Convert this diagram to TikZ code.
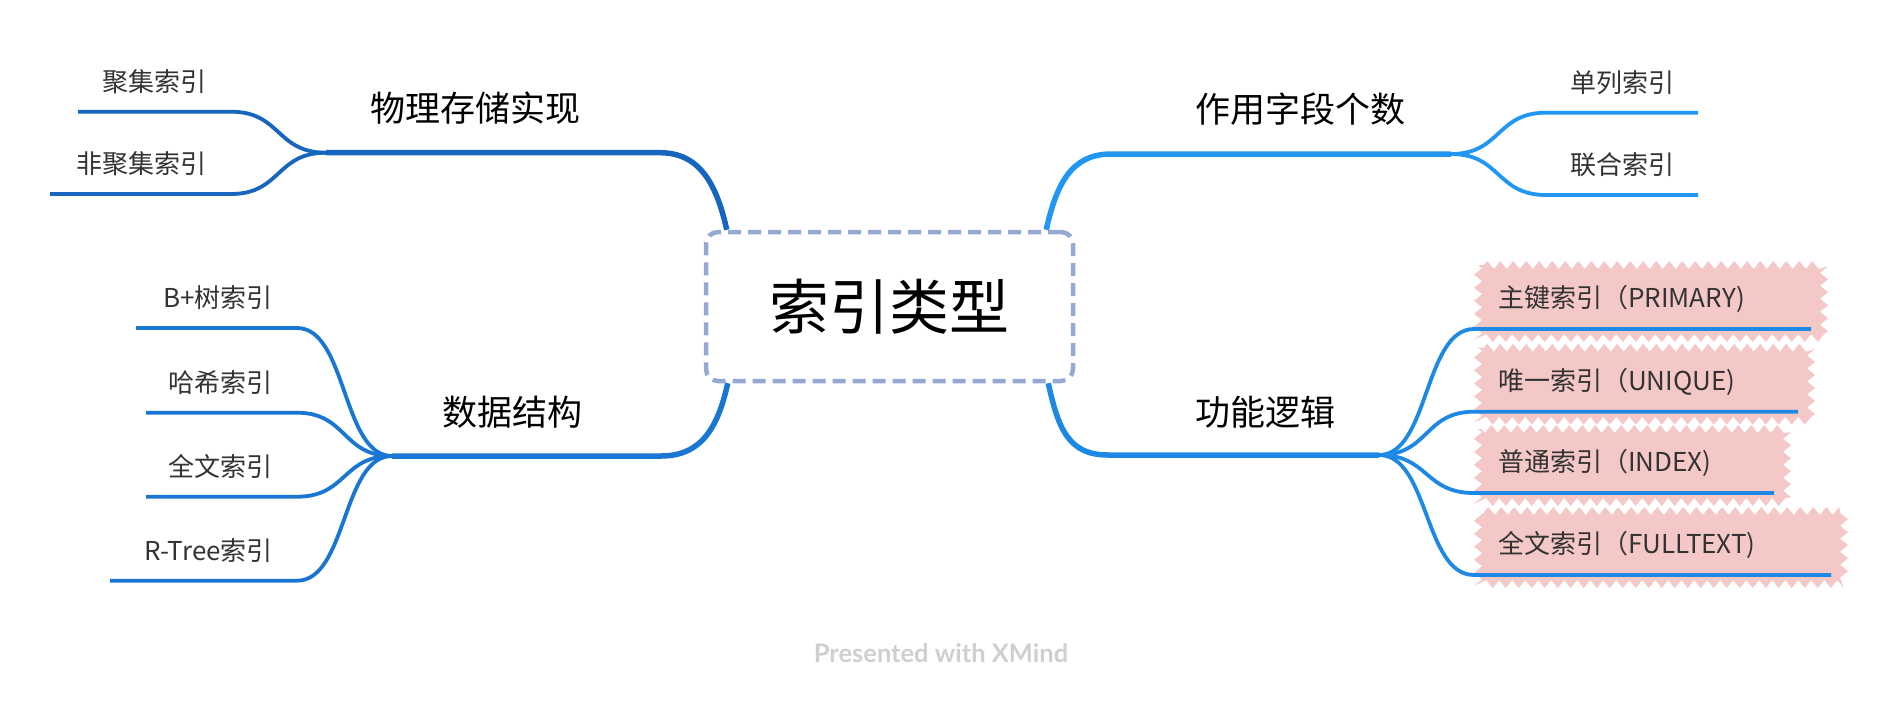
\documentclass[tikz,border=0pt]{standalone}
\usepackage{fontspec}
\setmainfont{Noto Sans CJK SC}
\newfontfamily\xmindfont{Lato}
\usetikzlibrary{calc,decorations.pathmorphing,positioning}
\usepackage{xcolor}
\definecolor{rootdash}{HTML}{95A9D3}
\definecolor{storeblue}{HTML}{1665BE}
\definecolor{fieldblue}{HTML}{2196F3}
\definecolor{structblue}{HTML}{1976D2}
\definecolor{logicblue}{HTML}{1E88E5}
\definecolor{leafgray}{HTML}{333333}
\definecolor{hlpink}{HTML}{F5C8C8}
\definecolor{markgray}{HTML}{CFCFCF}
\newcommand{\leftleaf}[6]{% {name}{topic}{x start}{x end}{y}{text}
  \coordinate (#1-s) at (#3,#5);
  \coordinate (#1-e) at (#4,#5);
  \node[leaf,anchor=east] (#1) at ($(#1-e)+(-24,-30)$) {#6};
  \draw[twig] (#2) .. controls +(-50,0) and +(50,0) .. (#1-e) -- (#1-s);
}
\newcommand{\rightleaf}[7][]{% [mark]{name}{topic}{x start}{x end}{y}{text}
  \coordinate (#2-s) at (#4,#6);
  \coordinate (#2-e) at (#5,#6);
  % Marker behind the leaf
  \path[#1] ($(#2-s)+(4,-64)$) rectangle ($(#2-e)+(13,9)$);
  \node[leaf,anchor=west] (#2) at ($(#2-s)+(24,-30)$) {#7};
  \draw[twig] (#3) .. controls +(50,0) and +(-50,0) .. (#2-s) -- (#2-e);
}

\begin{document}
\begin{tikzpicture}[x=1pt,y=-1pt,
  topic/.style={font=\fontsize{35}{40}\selectfont,text=black,inner sep=0pt},
  leaf/.style={font=\fontsize{26}{30}\selectfont,text=leafgray,inner sep=0pt},
  branch/.style={line width=5.5pt},
  twig/.style={line width=3.8pt},
  marker/.style={fill=hlpink,decorate,decoration={zigzag,segment length=13pt,amplitude=4pt}}]
  \useasboundingbox (0,0) rectangle (1882,704);
  % Central topic
  \node[draw=rootdash,line width=4.5pt,dash pattern=on 13pt off 7pt,
    rounded corners=12pt,fill=white,minimum width=367pt,minimum height=149pt,
    font=\fontsize{60}{66}\selectfont] (root) at (889.5,306.5) {索引类型};
  % Branch junctions
  \coordinate (store) at (326,152.7);
  \coordinate (storebend) at (660,152.7);
  \coordinate (field) at (1451,154);
  \coordinate (fieldbend) at (1111,154);
  \coordinate (struct) at (392,456);
  \coordinate (structbend) at (661,456);
  \coordinate (logic) at (1379,455);
  \coordinate (logicbend) at (1108,455);
  % Main branches
  \draw[branch,storeblue] ($(root.north west)+(23,0)$) .. controls +(-10,-45) and +(40,0) .. (storebend) -- (store);
  \draw[branch,fieldblue] ($(root.north east)+(-29,0)$) .. controls +(10,-45) and +(-40,0) .. (fieldbend) -- (field);
  \draw[branch,structblue] ($(root.south west)+(24,0)$) .. controls +(-10,45) and +(40,0) .. (structbend) -- (struct);
  \draw[branch,logicblue] ($(root.south east)+(-27,0)$) .. controls +(10,45) and +(-40,0) .. (logicbend) -- (logic);
  % Topic labels
  \node[topic] (store-t) at (475,108) {物理存储实现};
  \node[topic] (field-t) at (1300,109) {作用字段个数};
  \node[topic] (struct-t) at (512,412) {数据结构};
  \node[topic] (logic-t) at (1265,412) {功能逻辑};
  % Leaves
  \begin{scope}[storeblue]
    \leftleaf{clustered}{store}{78}{231}{111.7}{聚集索引}
    \leftleaf{nonclustered}{store}{50}{231}{194}{非聚集索引}
  \end{scope}
  \begin{scope}[fieldblue]
    \rightleaf{single}{field}{1546}{1698}{112.7}{单列索引}
    \rightleaf{composite}{field}{1546}{1698}{195}{联合索引}
  \end{scope}
  \begin{scope}[structblue]
    \leftleaf{btree}{struct}{136}{297}{328}{B+树索引}
    \leftleaf{hash}{struct}{146}{297}{412.7}{哈希索引}
    \leftleaf{fulltext}{struct}{146}{297}{496.7}{全文索引}
    \leftleaf{rtree}{struct}{110}{297}{580.7}{R-Tree索引}
  \end{scope}
  \begin{scope}[logicblue]
    \rightleaf[marker]{primary}{logic}{1474}{1811}{329}{主键索引（PRIMARY)}
    \rightleaf[marker]{unique}{logic}{1474}{1798}{411.7}{唯一索引（UNIQUE)}
    \rightleaf[marker]{normal}{logic}{1474}{1774}{493}{普通索引（INDEX)}
    \rightleaf[marker]{fulltextkey}{logic}{1474}{1831}{575}{全文索引（FULLTEXT)}
  \end{scope}
  % Watermark
  \node[font=\xmindfont\bfseries\fontsize{25.5}{30}\selectfont,text=markgray] (mark) at (941,653) {Presented with XMind};
\end{tikzpicture}
\end{document}
